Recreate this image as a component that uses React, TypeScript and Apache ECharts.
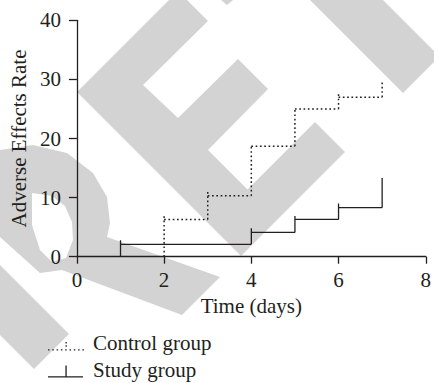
import React, { useEffect, useRef } from 'react';
import * as echarts from 'echarts';

// ---- data ----
const seriesNames = ['Control group', 'Study group'];
const xAxisTicks = { min: 0, max: 8, interval: 2 };
const yAxisTicks = { min: 0, max: 40, interval: 10 };

const controlTimes = [2, 3, 4, 5, 6, 7];
const controlLevels = [6.3, 10.3, 18.7, 25.0, 27.0];
const controlTickTops = [6.9, 11.3, 19.0, 25.1, 27.9, 29.9];

const studyTimes = [1, 4, 5, 6, 7];
const studyLevels = [2.1, 4.1, 6.3, 8.3];
const studyTickTops = [2.8, 4.8, 6.9, 9.0, 13.3];

const INK = '#231f20';
const FONT = "'Liberation Serif', 'Times New Roman', serif";
const FS = 21;
const WM = '#d3d3d3';

function stepData(times: number[], levels: number[], tops: number[]) {
  const out: any[] = [];
  let prev = 0;
  for (let i = 0; i < times.length; i++) {
    out.push([times[i], prev]);
    out.push([times[i], tops[i]]);
    out.push([times[i], '-']);
    if (i < levels.length) {
      out.push([times[i], levels[i]]);
      out.push([times[i + 1], levels[i]]);
      out.push([times[i + 1], '-']);
      prev = levels[i];
    }
  }
  return out;
}

function controlIcon() {
  let d = 'path://M0,0h0.01v0.01h-0.01Z M39.99,15.99h0.01v0.01h-0.01Z';
  for (let i = 0; i < 9; i++) {
    const x = (i * 4.3).toFixed(2);
    d += ` M${x},14.7h1.5v1.3h-1.5Z`;
  }
  d += ' M17.5,7.6h1.3v1.5h-1.3Z M17.5,10.8h1.3v1.5h-1.3Z';
  return d;
}

function studyIcon() {
  return 'path://M0,0h0.01v0.01h-0.01Z M39.99,15.99h0.01v0.01h-0.01Z M0,14.7h35v1.3h-35Z M17.4,4h1.3v11h-1.3Z';
}

const wmPolys: number[][][] = [
  // E
  [[77, 92], [169, 0], [187, 0], [208, 21], [143, 85], [178, 118], [238, 59], [268, 89], [208, 150], [247.5, 189.5], [315, 122], [345, 152], [241, 256]],
  // F band
  [[310, 0], [383, 0], [434, 51], [434, 62], [403, 93]],
  [[221, 0], [233, 0], [227, 5]],
  // R bowl + leg
  [[0, 150], [33, 145], [67, 153], [93, 173], [107, 197], [110, 223], [107, 237], [220, 277], [182, 315], [110, 288], [62, 270], [40, 273], [0, 237]],
  // R stem end
  [[0, 265], [69, 334], [34, 369], [0, 335]],
];
const wmHole = [[32, 193], [52, 196], [65, 206], [72, 222], [73, 240], [66, 258], [52, 262], [40, 250], [32, 225]];

export default function App() {
  const ref = useRef<HTMLDivElement>(null);
  useEffect(() => {
    if (!ref.current) return;
    const chart = echarts.init(ref.current, null, { renderer: 'svg' });
    const graphics: any[] = wmPolys.map((pts) => ({
      type: 'polygon',
      z: -10,
      silent: true,
      shape: { points: pts },
      style: { fill: WM },
    }));
    graphics.push({ type: 'polygon', z: -9, silent: true, shape: { points: wmHole }, style: { fill: '#ffffff' } });

    const axisCommon = {
      axisLine: { lineStyle: { color: INK, width: 1.3 } },
      splitLine: { show: false },
      axisLabel: { color: INK, fontSize: FS, fontFamily: FONT },
      nameTextStyle: { color: INK, fontSize: FS, fontFamily: FONT },
      nameLocation: 'middle' as const,
    };

    chart.setOption({
      animation: false,
      backgroundColor: '#ffffff',
      graphic: { elements: graphics },
      grid: { left: 74, right: 6, top: 20.3, bottom: 126.3, containLabel: false },
      xAxis: {
        type: 'value',
        ...xAxisTicks,
        ...axisCommon,
        name: 'Time (days)',
        nameGap: 37,
        axisTick: { show: true, length: 7, lineStyle: { color: INK, width: 1.3 } },
        axisLabel: { ...axisCommon.axisLabel, margin: 13 },
      },
      yAxis: {
        type: 'value',
        ...yAxisTicks,
        ...axisCommon,
        name: 'Adverse Effects Rate',
        nameGap: 44,
        axisTick: { show: true, length: 8, lineStyle: { color: INK, width: 1.3 } },
        axisLabel: { ...axisCommon.axisLabel, margin: 16 },
      },
      legend: {
        orient: 'vertical',
        left: 48,
        top: 332,
        padding: 0,
        itemWidth: 40,
        itemHeight: 16,
        itemGap: 6,
        selectedMode: false,
        itemStyle: { color: INK, borderWidth: 0 },
        textStyle: { color: INK, fontSize: FS, fontFamily: FONT, lineHeight: 21 },
        data: [
          { name: seriesNames[0], icon: controlIcon() },
          { name: seriesNames[1], icon: studyIcon() },
        ],
      },
      series: [
        {
          name: seriesNames[0],
          type: 'line',
          data: stepData(controlTimes, controlLevels, controlTickTops),
          symbol: 'none',
          showSymbol: false,
          connectNulls: false,
          color: INK,
          lineStyle: { color: INK, width: 1.5, type: [1.7, 2.6] },
        },
        {
          name: seriesNames[1],
          type: 'line',
          data: stepData(studyTimes, studyLevels, studyTickTops),
          symbol: 'none',
          showSymbol: false,
          connectNulls: false,
          color: INK,
          lineStyle: { color: INK, width: 1.3, type: 'solid' },
        },
      ],
    });
    return () => chart.dispose();
  }, []);
  return (
    <div
      ref={ref}
      style={{ position: 'absolute', left: 0, top: 0, width: 434, height: 383, background: '#fff' }}
    />
  );
}
